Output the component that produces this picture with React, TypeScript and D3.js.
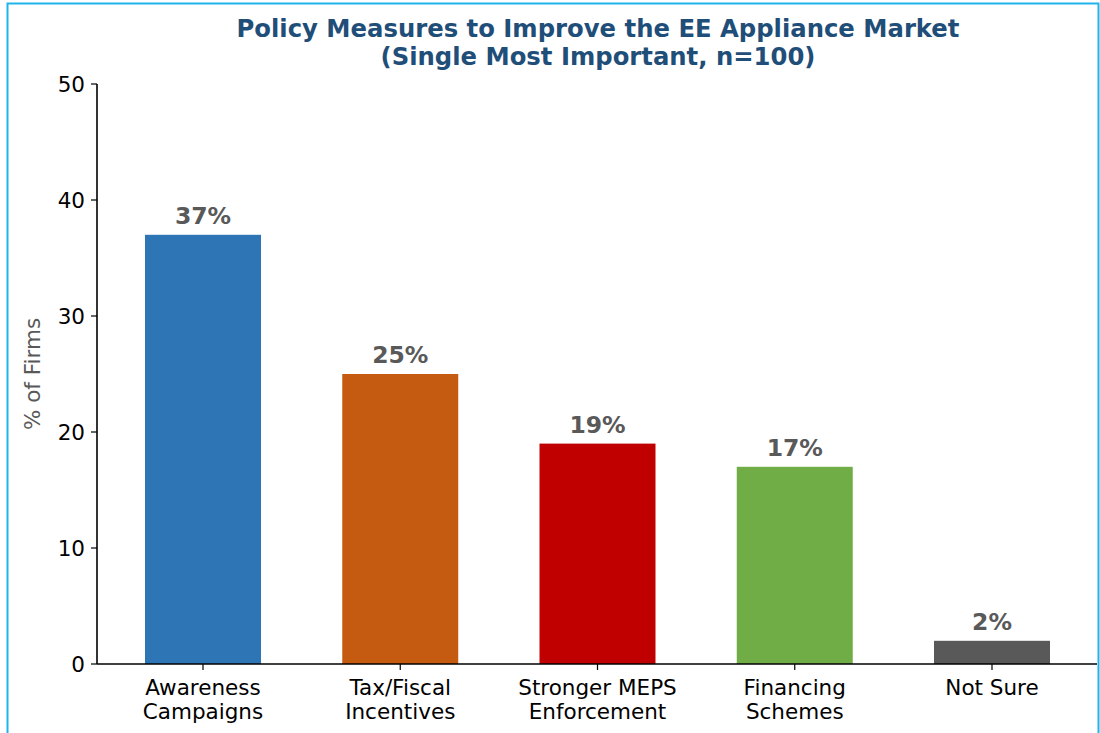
import React from "react";
import * as d3 from "d3";

const categories: string[][] = [
  ["Awareness", "Campaigns"],
  ["Tax/Fiscal", "Incentives"],
  ["Stronger MEPS", "Enforcement"],
  ["Financing", "Schemes"],
  ["Not Sure"],
];
const values: number[] = [37, 25, 19, 17, 2];
const colors: string[] = ["#2E75B6", "#C55A11", "#C00000", "#70AD47", "#595959"];
const yTicks: number[] = [0, 10, 20, 30, 40, 50];
const titleLines: string[] = [
  "Policy Measures to Improve the EE Appliance Market",
  "(Single Most Important, n=100)",
];
const yLabel = "% of Firms";

export default function App() {
  const W = 1100;
  const H = 733;
  const left = 97;
  const right = 1097;
  const top = 84;
  const bottom = 664;
  const font = "DejaVu Sans, sans-serif";

  const x = d3.scaleLinear().domain([0, categories.length - 1]).range([203, 992]);
  const y = d3.scaleLinear().domain([0, 50]).range([bottom, top]);
  const bw = (x(1) - x(0)) * 0.588;

  return (
    <svg
      width={W}
      height={H}
      style={{ position: "absolute", left: 0, top: 0, background: "#fff" }}
      fontFamily={font}
    >
      <rect x={0} y={0} width={W} height={H} fill="#fff" />
      <path d={`M7.5,${H} V3.5 H1098.5 V${H}`} fill="none" stroke="#1FB4EC" strokeWidth={2} />
      {titleLines.map((t, i) => (
        <text
          key={i}
          x={598}
          y={37 + i * 28}
          textAnchor="middle"
          fontSize={24.3}
          fontWeight="bold"
          fill="#1F4E79"
        >
          {t}
        </text>
      ))}
      {values.map((v, i) => (
        <g key={i}>
          <rect
            x={x(i) - bw / 2}
            y={y(v)}
            width={bw}
            height={y(0) - y(v)}
            fill={colors[i]}
          />
          <text
            x={x(i)}
            y={y(v) - 11}
            textAnchor="middle"
            fontSize={23.5}
            fontWeight="bold"
            fill="#595959"
          >
            {v}%
          </text>
        </g>
      ))}
      <line x1={left} x2={left} y1={top} y2={bottom} stroke="#000" strokeWidth={1.6} />
      <line x1={left} x2={right} y1={bottom} y2={bottom} stroke="#000" strokeWidth={1.6} />
      {yTicks.map((t) => (
        <g key={t}>
          <line x1={left - 6} x2={left} y1={y(t)} y2={y(t)} stroke="#000" strokeWidth={1.2} />
          <text x={left - 12} y={y(t) + 8} textAnchor="end" fontSize={21.5} fill="#000">
            {t}
          </text>
        </g>
      ))}
      {categories.map((c, i) => (
        <g key={i}>
          <line x1={x(i)} x2={x(i)} y1={bottom} y2={bottom + 6} stroke="#000" strokeWidth={1.2} />
          {c.map((line, j) => (
            <text
              key={j}
              x={x(i)}
              y={bottom + 31 + j * 23.5}
              textAnchor="middle"
              fontSize={21.5}
              fill="#000"
            >
              {line}
            </text>
          ))}
        </g>
      ))}
      <text
        transform={`translate(40,${374}) rotate(-90)`}
        textAnchor="middle"
        fontSize={21.5}
        fill="#595959"
      >
        {yLabel}
      </text>
    </svg>
  );
}
